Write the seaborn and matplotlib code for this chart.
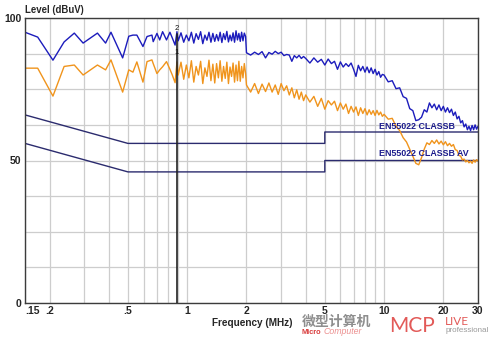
import matplotlib
matplotlib.use("Agg")
import matplotlib.pyplot as plt
import seaborn as sns
import pandas as pd

# ---- measured conducted-emission scans (frequency in MHz, level in dBuV) ----
freq_low = [0.150, 0.174, 0.208, 0.237, 0.267, 0.296, 0.350, 0.385, 0.410, 0.470,
            0.505, 0.530, 0.555, 0.596, 0.625, 0.662, 0.672, 0.702, 0.725, 0.750,
            0.785, 0.817, 0.840, 0.868, 0.887]
peak_low = [95.0, 93.3, 85.2, 91.6, 94.7, 91.2, 94.7, 91.2, 95.0, 86.0,
            93.6, 94.0, 94.0, 90.0, 93.5, 94.0, 91.7, 94.6, 92.3, 95.2,
            92.3, 95.0, 93.0, 90.5, 95.2]
avg_low = [82.4, 82.4, 72.6, 83.0, 83.5, 80.0, 83.5, 81.8, 85.3, 74.0,
           81.8, 81.0, 84.6, 77.5, 84.7, 85.3, 84.0, 80.5, 81.8, 82.9,
           84.7, 82.0, 80.0, 77.3, 84.6]

freq_mid = [0.90, 0.93, 0.96, 0.99, 1.02, 1.05, 1.08, 1.11, 1.14, 1.17,
            1.20, 1.23, 1.26, 1.29, 1.32, 1.35, 1.38, 1.41, 1.44, 1.47,
            1.50, 1.53, 1.56, 1.59, 1.62, 1.65, 1.68, 1.71, 1.74, 1.77,
            1.80, 1.83, 1.86, 1.89, 1.92, 1.95, 1.98]
peak_mid = [92.0, 94.8, 91.5, 94.0, 92.0, 95.0, 91.2, 94.5, 92.5, 95.2,
            91.0, 94.0, 92.2, 95.0, 91.5, 94.6, 91.8, 94.2, 92.0, 95.0,
            91.4, 94.5, 92.4, 95.3, 91.6, 94.0, 92.0, 94.8, 91.5, 95.5,
            92.3, 94.6, 91.8, 95.0, 92.0, 94.7, 93.5]
avg_mid = [80.0, 84.5, 78.5, 83.5, 79.0, 85.0, 77.5, 83.0, 80.0, 84.8,
           77.0, 82.5, 79.5, 85.2, 78.0, 83.8, 77.2, 84.0, 79.0, 85.0,
           77.8, 83.0, 78.8, 84.5, 77.0, 82.8, 79.5, 84.2, 77.5, 83.5,
           78.0, 84.8, 77.8, 83.0, 79.0, 84.0, 80.5]

freq_high = [2.0, 2.1, 2.2, 2.3, 2.4, 2.5, 2.6, 2.7, 2.8, 2.9,
             3.0, 3.1, 3.2, 3.3, 3.4, 3.5, 3.6, 3.7, 3.8, 3.9,
             4.0, 4.2, 4.4, 4.6, 4.8, 5.0, 5.2, 5.4, 5.6, 5.8,
             6.0, 6.2, 6.4, 6.6, 6.8, 7.0, 7.2, 7.4, 7.6, 7.8,
             8.0, 8.2, 8.4, 8.6, 8.8, 9.0, 9.2, 9.4, 9.6, 9.8,
             10.0, 10.5, 11.0, 11.5, 12.0, 12.5, 13.0, 13.5, 14.0, 14.5,
             15.0, 15.5, 16.0, 16.5, 17.0, 17.5, 18.0, 18.5, 19.0, 19.5,
             20.0, 20.5, 21.0, 21.5, 22.0, 22.5, 23.0, 23.5, 24.0, 24.5,
             25.0, 25.5, 26.0, 26.5, 27.0, 27.5, 28.0, 28.5, 29.0, 29.5,
             30.0]
peak_high = [87.8, 87.0, 88.0, 87.2, 88.2, 86.0, 87.9, 87.3, 88.3, 87.5,
             88.0, 86.8, 87.2, 87.0, 84.8, 86.8, 86.0, 86.9, 85.8, 86.5,
             85.8, 84.2, 86.0, 84.5, 85.5, 83.5, 85.6, 84.0, 84.8, 82.0,
             84.6, 82.8, 84.0, 83.0, 84.2, 82.0, 79.5, 83.4, 81.5, 83.0,
             81.0, 82.8, 80.8, 82.5, 80.5, 82.0, 80.0, 81.2, 79.2, 80.2,
             80.0, 77.6, 78.0, 75.2, 75.5, 72.4, 71.8, 68.2, 67.5, 64.0,
             64.3, 65.2, 67.8, 67.0, 70.2, 68.5, 69.8, 67.8, 69.5, 67.5,
             69.0, 67.0, 68.5, 66.8, 68.0, 65.8, 67.0, 64.6, 65.5, 63.2,
             64.0, 61.8, 62.8, 60.8, 62.0, 60.5, 62.3, 60.8, 62.5, 61.0,
             62.0]
avg_high = [76.5, 74.0, 77.0, 73.5, 76.8, 74.2, 77.2, 74.0, 76.5, 73.2,
            77.0, 74.5, 76.2, 73.0, 75.5, 72.0, 74.8, 71.5, 74.0, 71.0,
            73.0, 70.5, 72.5, 69.0, 71.8, 68.0, 71.0, 69.5, 70.8, 67.5,
            70.2, 68.0, 69.8, 66.5, 69.0, 67.0, 68.8, 65.8, 68.5, 66.5,
            68.2, 66.0, 67.8, 66.2, 67.5, 65.8, 67.6, 66.0, 67.0, 65.5,
            66.2, 64.5, 64.8, 62.0, 60.5, 58.0, 56.5, 54.0, 51.5, 49.0,
            48.5, 51.0, 54.0, 56.2, 55.6, 57.0, 56.0, 57.2, 55.8, 56.8,
            55.5, 56.6, 55.2, 56.0, 55.0, 55.6, 53.8, 53.5, 51.8, 51.5,
            50.2, 50.5, 49.5, 50.0, 49.2, 49.8, 49.0, 50.2, 49.4, 50.3,
            49.8]

# EN55022 class B limits
limit_freq = [0.15, 0.5, 5.0, 5.0, 30.0]
limit_qp = [66, 56, 56, 60, 60]
limit_av = [56, 46, 46, 50, 50]

marker_freq = 0.887

x_grid = [0.15, 0.2, 0.3, 0.4, 0.5, 0.6, 0.7, 0.8, 0.9, 1, 2, 3, 4, 5, 6, 7, 8, 9,
          10, 20, 30]
x_labels = {0.15: ".15", 0.2: ".2", 0.5: ".5", 1: "1", 2: "2", 5: "5",
            10: "10", 20: "20", 30: "30"}
y_grid = [0, 12.5, 25, 37.5, 50, 62.5, 75, 87.5, 100]
y_labels = {0: "0", 50: "50", 100: "100"}

sns.set_style("white")
plt.rcParams["font.family"] = ["Liberation Sans", "DejaVu Sans"]

fig = plt.figure(figsize=(5.0, 3.38), dpi=100)
ax = fig.add_axes([25 / 500, 1 - 303 / 338, 453 / 500, 285 / 338])

scan = pd.DataFrame({
    "freq": freq_low + freq_mid + freq_high,
    "peak": peak_low + peak_mid + peak_high,
    "avg": avg_low + avg_mid + avg_high,
})
limits = pd.DataFrame({"freq": limit_freq, "qp": limit_qp, "av": limit_av})

sns.lineplot(data=limits, x="freq", y="qp", ax=ax, color="#2b2b6e", lw=1.0,
             estimator=None, sort=False)
sns.lineplot(data=limits, x="freq", y="av", ax=ax, color="#2b2b6e", lw=1.0,
             estimator=None, sort=False)
sns.lineplot(data=scan, x="freq", y="avg", ax=ax, color="#f0941c", lw=1.0,
             estimator=None, sort=False)
sns.lineplot(data=scan, x="freq", y="peak", ax=ax, color="#1c1cbc", lw=1.0,
             estimator=None, sort=False)

# marker line
ax.plot([marker_freq, marker_freq], [0, 94.5], color="#222222", lw=1.2, zorder=4)
ax.text(marker_freq, 96.4, "2", fontsize=5.5, ha="center", va="center",
        color="#111111", zorder=6)
ax.text(marker_freq, 88.0, "1", fontsize=5.5, ha="center", va="center",
        color="#111111", zorder=6)

ax.set_xscale("log")
ax.set_xlim(0.15, 30)
ax.set_ylim(0, 100)
ax.set_xticks(x_grid)
ax.set_xticklabels([x_labels.get(v, "") for v in x_grid])
ax.minorticks_off()
ax.set_yticks(y_grid)
ax.set_yticklabels([y_labels.get(v, "") for v in y_grid])
ax.grid(True, color="#cdcdcd", lw=0.9)
ax.set_axisbelow(True)
ax.tick_params(length=0, labelsize=7.5, pad=2.5)
for lab in ax.get_xticklabels() + ax.get_yticklabels():
    lab.set_fontweight("bold")
ax.get_xticklabels()[0].set_horizontalalignment("left")
for sp in ax.spines.values():
    sp.set_color("#3c3c3c")
    sp.set_linewidth(1.0)
ax.set_xlabel("")
ax.set_ylabel("")

ax.text(9.4, 62.1, "EN55022 CLASSB", fontsize=6.4, fontweight="bold",
        color="#1c1c8c", ha="left", va="center", zorder=6)
ax.text(9.4, 52.3, "EN55022 CLASSB AV", fontsize=6.4, fontweight="bold",
        color="#1c1c8c", ha="left", va="center", zorder=6)

fig.text(25 / 500, 1 - 10 / 338, "Level (dBuV)", fontsize=6.9, fontweight="bold",
         ha="left", va="center")
fig.text(252 / 500, 1 - 323 / 338, "Frequency (MHz)", fontsize=7.2, fontweight="bold",
         ha="center", va="center")

# publication mark
fig.text(302 / 500, 1 - 322 / 338, "微型计算机", fontsize=10, fontweight="bold",
         family=["Noto Sans CJK SC", "DejaVu Sans"], color="#8e8e8e",
         ha="left", va="center")
fig.text(302 / 500, 1 - 332 / 338, "Micro", fontsize=5.3, fontweight="bold",
         color="#d83a3a", ha="left", va="center")
fig.text(324 / 500, 1 - 332 / 338, "Computer", fontsize=6.3, style="italic",
         color="#ec9090", ha="left", va="center")
fig.text(389 / 500, 1 - 326 / 338, "MCP", fontsize=15, color="#e25a58",
         ha="left", va="center", family=["Lato", "DejaVu Sans"])
fig.text(445 / 500, 1 - 321.5 / 338, "LIVE", fontsize=8.5, color="#e25a58",
         ha="left", va="center", family=["Lato", "DejaVu Sans"])
fig.text(446 / 500, 1 - 331 / 338, "professional", fontsize=5.8, color="#9a9a9a",
         ha="left", va="center")

fig.savefig("out.png", dpi=100)
